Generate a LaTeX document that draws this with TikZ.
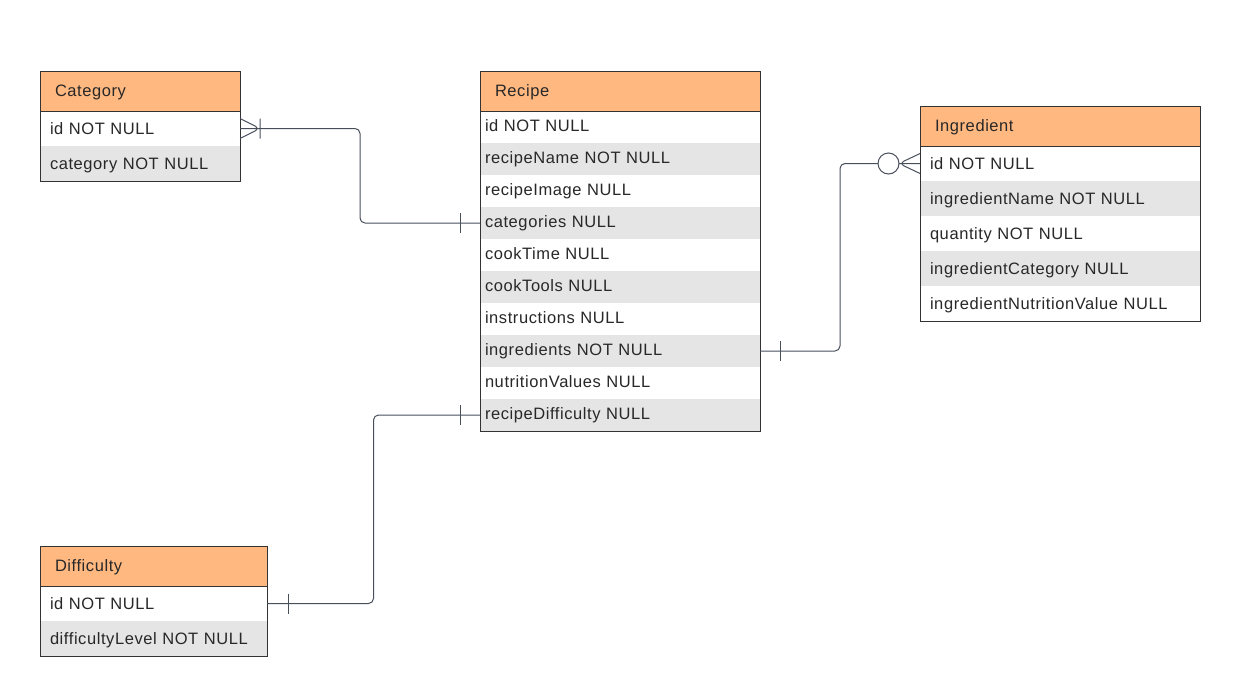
\documentclass[tikz,border=0pt]{standalone}
\usepackage{fontspec}
\setmainfont[LetterSpace=3.5]{Liberation Sans}
\usetikzlibrary{calc}
\definecolor{headfill}{RGB}{255,184,128}
\definecolor{rowgrey}{RGB}{229,229,229}
\definecolor{tabline}{RGB}{51,51,51}
\definecolor{txtgrey}{RGB}{40,40,40}
\definecolor{connline}{RGB}{72,78,90}
\tikzset{
  head/.style={fill=headfill, anchor=north west, outer sep=0pt, inner xsep=15pt, inner ysep=0pt,
    minimum height=40pt, align=left, text height=11.8pt, text depth=0pt, text=txtgrey},
  field/.style={fill=#1, anchor=north west, outer sep=0pt, inner xsep=10pt, inner ysep=0pt,
    minimum height=35pt, align=left, text height=11.8pt, text depth=0pt, text=txtgrey},
  tabedge/.style={draw=tabline, line width=1pt},
  conn/.style={draw=connline, line width=1pt, rounded corners=5pt}
}

\begin{document}
\begin{tikzpicture}[x=1pt, y=-1pt, font=\fontsize{16.5}{19}\selectfont]
\useasboundingbox (0,0) rectangle (1240,696);

% Category
\node[head, text width=170pt] (cat) at (40,71) {Category};
\foreach \txt/\col [count=\i] in {id NOT NULL/white, category NOT NULL/rowgrey}
\node[field=\col, text width=180pt] (cat-\i) at (40,{111+35*(\i-1)}) {\txt};
\draw[tabedge] (cat.north west) rectangle (cat-2.south east) (cat.south west) -- (cat.south east);

% Recipe
\node[head, text width=250pt] (rec) at (480,71) {Recipe};
\foreach \txt/\col [count=\i] in {id NOT NULL/white, recipeName NOT NULL/rowgrey,
  recipeImage NULL/white, categories NULL/rowgrey, cookTime NULL/white,
  cookTools NULL/rowgrey, instructions NULL/white, ingredients NOT NULL/rowgrey,
  nutritionValues NULL/white, recipeDifficulty NULL/rowgrey}
\node[field=\col, text width=270pt, inner xsep=5pt, minimum height=32pt, text height=8.5pt] (rec-\i) at (480,{111+32*(\i-1)}) {\txt};
\draw[tabedge] (rec.north west) rectangle (rec-10.south east) (rec.south west) -- (rec.south east);

% Ingredient
\node[head, text width=250pt] (ing) at (920,106) {Ingredient};
\foreach \txt/\col [count=\i] in {id NOT NULL/white, ingredientName NOT NULL/rowgrey,
  quantity NOT NULL/white, ingredientCategory NULL/rowgrey, ingredientNutritionValue NULL/white}
\node[field=\col, text width=260pt] (ing-\i) at (920,{146+35*(\i-1)}) {\txt};
\draw[tabedge] (ing.north west) rectangle (ing-5.south east) (ing.south west) -- (ing.south east);

% Difficulty
\node[head, text width=197pt] (dif) at (40,546) {Difficulty};
\foreach \txt/\col [count=\i] in {id NOT NULL/white, difficultyLevel NOT NULL/rowgrey}
\node[field=\col, text width=207pt] (dif-\i) at (40,{586+35*(\i-1)}) {\txt};
\draw[tabedge] (dif.north west) rectangle (dif-2.south east) (dif.south west) -- (dif.south east);

% Category -- Recipe
\coordinate (m1) at ($(cat-1.east)!0.5!(rec-4.west)$);
\draw[conn] (cat-1.east) -- (m1 |- cat-1.east) -- (m1 |- rec-4.west) -- (rec-4.west);
\draw[conn, shift={(cat-1.east)}] (0,-10) -- (20,0) -- (0,10) (20,-10) -- (20,10);
\draw[conn, shift={(rec-4.west)}] (-20,-10) -- (-20,10);

% Recipe -- Ingredient
\coordinate (m2) at ($(rec-8.east)!0.5!(ing-1.west)$);
\draw[conn] (rec-8.east) -- (m2 |- rec-8.east) -- (m2 |- ing-1.west) -- (ing-1.west);
\draw[conn, shift={(rec-8.east)}] (20,-10) -- (20,10);
\draw[conn, shift={(ing-1.west)}] (0,-10) -- (-21,0) -- (0,10);
\draw[conn, fill=white, shift={(ing-1.west)}] (-31.5,0) circle (10.5pt);

% Difficulty -- Recipe
\coordinate (m3) at ($(dif-1.east)!0.5!(rec-10.west)$);
\draw[conn] (dif-1.east) -- (m3 |- dif-1.east) -- (m3 |- rec-10.west) -- (rec-10.west);
\draw[conn, shift={(dif-1.east)}] (21,-10) -- (21,10);
\draw[conn, shift={(rec-10.west)}] (-20,-10) -- (-20,10);
\end{tikzpicture}
\end{document}
